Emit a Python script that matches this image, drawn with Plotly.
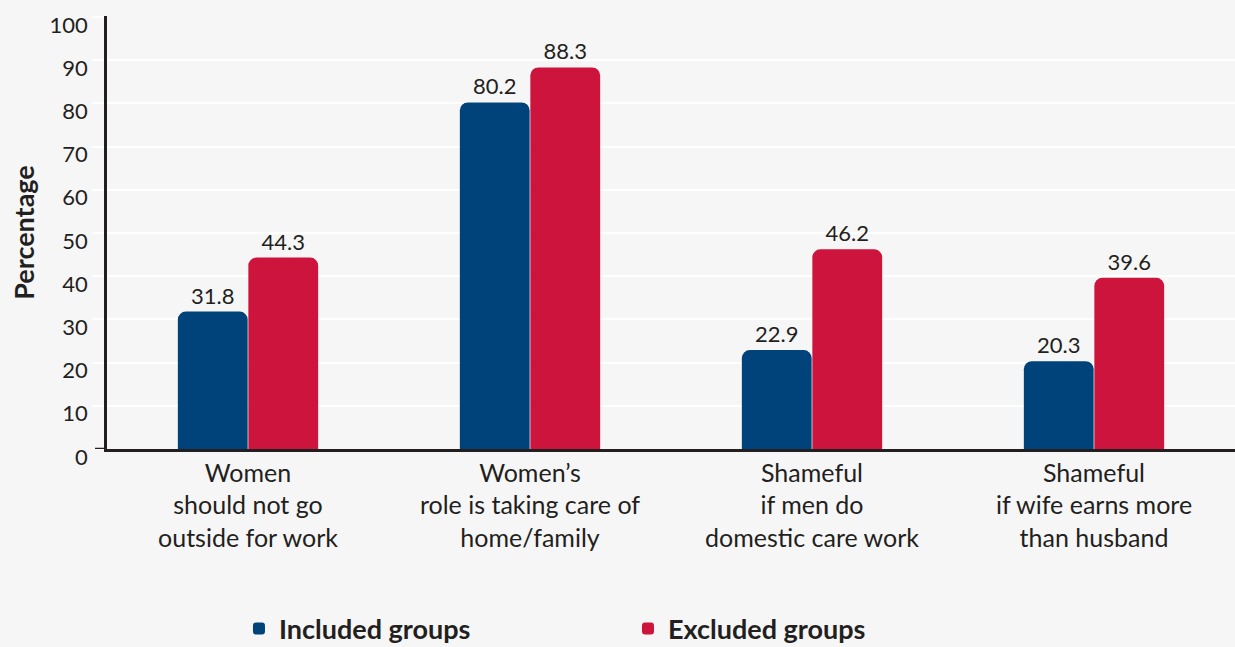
import plotly.graph_objects as go

categories = [
    "Women<br>should not go<br>outside for work",
    "Women’s<br>role is taking care of<br>home/family",
    "Shameful<br>if men do<br>domestic care work",
    "Shameful<br>if wife earns more<br>than husband",
]
included = [31.8, 80.2, 22.9, 20.3]
excluded = [44.3, 88.3, 46.2, 39.6]
y_ticks = [0, 10, 20, 30, 40, 50, 60, 70, 80, 90, 100]

BLUE = "#00427a"
RED = "#cc143c"
TXT = "#231f20"
BG = "#f6f6f6"
FONT = "Lato"

fig = go.Figure()
fig.add_trace(go.Bar(
    x=categories, y=included, name="Included groups",
    marker=dict(color=BLUE, cornerradius=8, line=dict(width=0)),
    text=[f"{v:.1f}" for v in included], textposition="outside",
    textfont=dict(size=22, color=TXT, family=FONT), cliponaxis=False,
))
fig.add_trace(go.Bar(
    x=categories, y=excluded, name="Excluded groups",
    marker=dict(color=RED, cornerradius=8, line=dict(width=0)),
    text=[f"{v:.1f}" for v in excluded], textposition="outside",
    textfont=dict(size=22, color=TXT, family=FONT), cliponaxis=False,
))

fig.update_layout(
    width=1235, height=647,
    margin=dict(l=107, r=0, t=16, b=198, autoexpand=False),
    paper_bgcolor=BG, plot_bgcolor=BG,
    barmode="group", bargap=0.5, bargroupgap=0.01,
    font=dict(family=FONT, color=TXT, size=22),
    showlegend=True,
    legend=dict(
        orientation="h", x=0.117, xanchor="left",
        yref="container", y=(647 - 629) / 647, yanchor="middle",
        font=dict(size=27, color=TXT, family=FONT, weight="bold"),
        entrywidth=344, entrywidthmode="pixels",
        bgcolor="rgba(0,0,0,0)",
    ),
    xaxis=dict(
        showline=True, linecolor=TXT, linewidth=2.5, automargin=False,
        ticks="", showgrid=False, tickfont=dict(size=25, color=TXT),
    ),
    yaxis=dict(
        range=[0, 100.2], tickvals=y_ticks, showgrid=True, automargin=False,
        gridcolor="#ffffff", gridwidth=2,
        showline=True, linecolor=TXT, linewidth=2.5,
        ticks="outside", ticklen=12, tickcolor="#ffffff", tickwidth=2,
        tickfont=dict(size=22, color=TXT), ticklabelshift=8,
        zeroline=False,
        title=dict(text="<b>Percentage</b>", font=dict(size=27, color=TXT), standoff=8),
    ),
    shapes=[dict(
        type="line", xref="paper", yref="y", x0=-12 / 1128, x1=0, y0=0, y1=0,
        line=dict(color=TXT, width=2.5), layer="above",
    )],
)

fig.write_html(
    "out.html",
    config={"displayModeBar": False},
    post_script="document.body.style.margin='0';document.body.style.background='#f6f6f6';",
)
